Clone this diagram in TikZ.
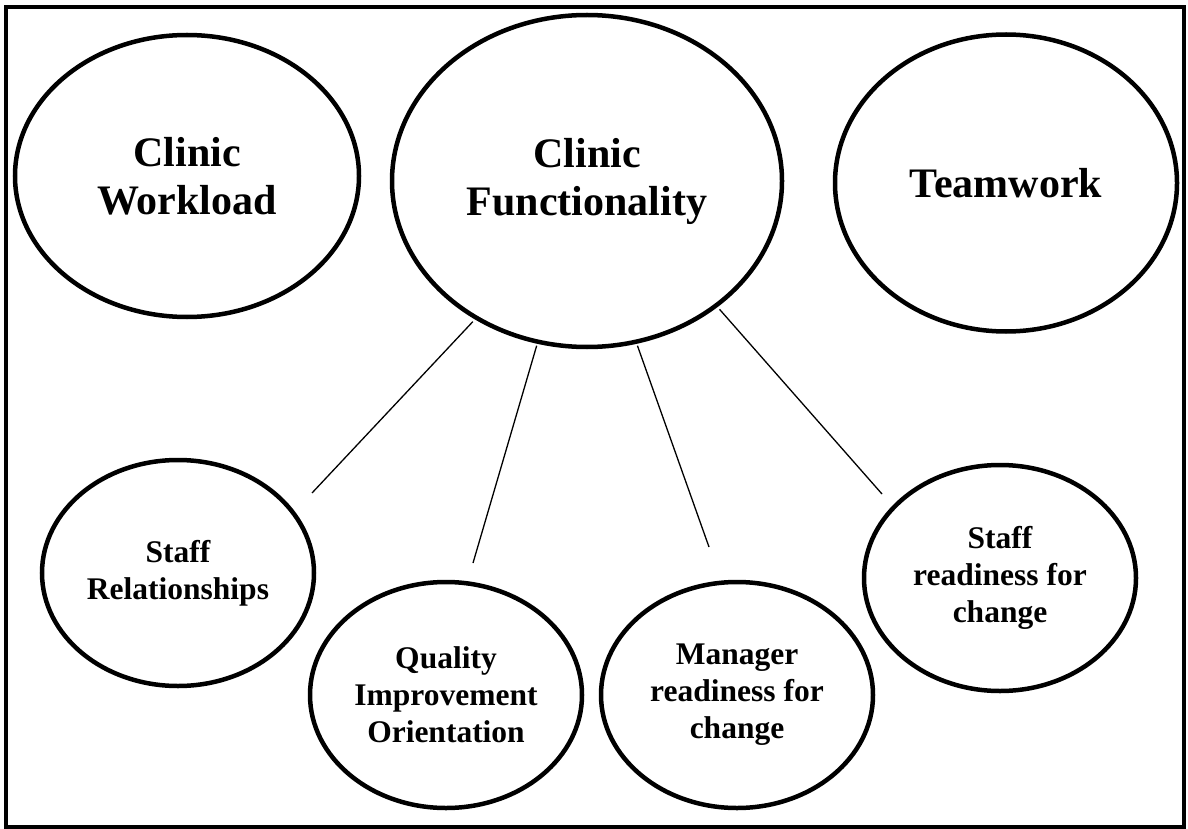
\documentclass[tikz,border=0pt]{standalone}
\usepackage{tikz}
\usepackage{fontspec}
\setmainfont{Liberation Serif}
\usetikzlibrary{shapes,positioning}
\tikzset{
	bigoval/.style={
		ellipse,
		line width=4.5pt,
		draw=black,
		fill=white,
		inner sep=0pt,
		align=center,
		text centered,
		font=\fontsize{42pt}{48pt}\selectfont\bfseries
	},
	smalloval/.style={
		ellipse,
		line width=4.5pt,
		draw=black,
		fill=white,
		inner sep=0pt,
		minimum width=272pt,
		minimum height=226pt,
		align=center,
		text centered,
		font=\fontsize{31.5pt}{37pt}\selectfont\bfseries
	},
	link/.style={
		draw=black,
		line width=1.3pt
	},
	frame/.style={
		draw=black,
		line width=4pt
	},
}

\begin{document}
\begin{tikzpicture}[x=1pt, y=1pt, node distance = 400pt]
		\useasboundingbox (0,0) rectangle (1188,-829);
		\draw [frame] (6,-7) rectangle (1184,-827);
		\node (func) [bigoval, minimum width=390pt, minimum height=332pt] at (587,-181) {Clinic\\Functionality};
		\node (workload) [bigoval, minimum width=344pt, minimum height=282pt, left of = func, yshift = 5pt] {Clinic\\Workload};
		\node (teamwork) [bigoval, minimum width=342pt, minimum height=297pt, right of = func, xshift = 19pt, yshift = -2pt] {Teamwork};
		\node (relations) [smalloval, below of = func, xshift = -409pt, yshift = 8pt] {Staff\\Relationships};
		\node (quality) [smalloval, below of = func, xshift = -141pt, yshift = -114pt] {Quality\\Improvement\\Orientation};
		\node (manager) [smalloval, below of = func, xshift = 150pt, yshift = -114pt] {Manager\\readiness for\\change};
		\node (staffready) [smalloval, below of = func, xshift = 413pt, yshift = 3pt] {Staff\\readiness for\\change};
		\coordinate (relend) at (312,-493);
		\coordinate (qualend) at (473,-563);
		\coordinate (mgrend) at (709,-547);
		\coordinate (readyend) at (882,-494);
		\draw [link, shorten <= 3pt] (func.231) -- (relend);
		\draw [link, shorten <= 2pt] (func.253) -- (qualend);
		\draw [link, shorten <= 2pt] (func.287) -- (mgrend);
		\draw [link, shorten <= 3pt] (func.316) -- (readyend);
		\end{tikzpicture}
\end{document}
